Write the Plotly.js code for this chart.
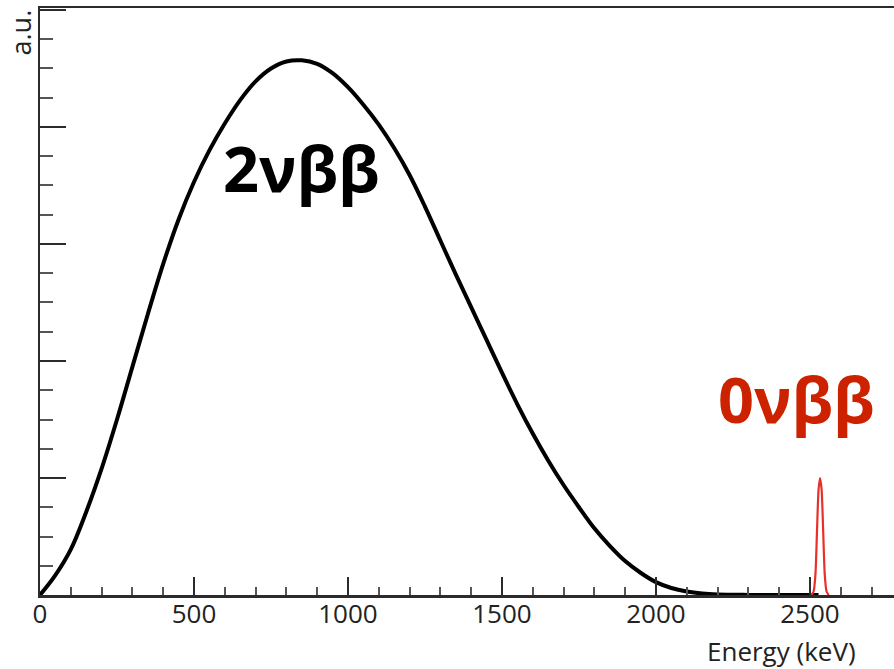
<!DOCTYPE html>
<html>
<head>
<meta charset="utf-8">
<script src="https://cdn.plot.ly/plotly-3.0.1.min.js"></script>
<style>html,body{margin:0;padding:0;background:#fff;overflow:hidden}</style>
</head>
<body>
<div id="chart" style="width:894px;height:669px"></div>
<script>
// 2νββ continuum (energy in keV, arbitrary units)
const energy2nu = [0, 50, 100, 150, 200, 250, 300, 350, 400, 450, 500, 550, 600, 650, 700, 750, 800, 850, 900, 950, 1000, 1050, 1100, 1150, 1200, 1250, 1300, 1350, 1400, 1450, 1500, 1550, 1600, 1650, 1700, 1750, 1800, 1850, 1900, 1950, 2000, 2050, 2100, 2150, 2200, 2300, 2400, 2528];
const counts2nu = [0, 0.17, 0.39, 0.71, 1.08, 1.50, 1.95, 2.40, 2.83, 3.21, 3.53, 3.80, 4.03, 4.23, 4.39, 4.50, 4.56, 4.57, 4.54, 4.46, 4.34, 4.19, 4.02, 3.82, 3.59, 3.32, 3.03, 2.74, 2.46, 2.18, 1.90, 1.63, 1.38, 1.15, 0.94, 0.75, 0.57, 0.42, 0.29, 0.19, 0.11, 0.06, 0.03, 0.013, 0.005, 0.001, 0, 0];
// 0νββ peak
const energy0nu = [2505, 2512, 2518, 2523, 2528, 2533, 2538, 2543, 2548, 2554, 2561];
const counts0nu = [0, 0.03, 0.18, 0.55, 0.90, 1.0, 0.90, 0.55, 0.18, 0.03, 0];
const xTicks = [0, 500, 1000, 1500, 2000, 2500];
const xLabels = ["0", "500", "1000", "1500", "2000", "2500"];

const axisColor = '#2b2b2b';
const traces = [
  {x: energy2nu, y: counts2nu, type: 'scatter', mode: 'lines',
   line: {color: '#000', width: 4, shape: 'spline', smoothing: 1}, hoverinfo: 'skip'},
  {x: energy0nu, y: counts0nu, type: 'scatter', mode: 'lines',
   line: {color: '#e8302a', width: 2.2, shape: 'spline', smoothing: 0.6}, hoverinfo: 'skip'}
];
const layout = {
  width: 894, height: 669,
  margin: {l: 40, r: 0, t: 8, b: 74},
  paper_bgcolor: '#fff', plot_bgcolor: '#fff',
  showlegend: false,
  font: {family: 'Open Sans, sans-serif', color: '#222'},
  xaxis: {
    range: [0, 2773], showgrid: false, zeroline: false,
    showline: true, linecolor: axisColor, linewidth: 2.5, mirror: true,
    ticks: 'inside', ticklen: 18, tickwidth: 2, tickcolor: axisColor,
    tickmode: 'array', tickvals: xTicks, ticktext: xLabels,
    tickfont: {size: 26, color: '#222', family: 'Open Sans, sans-serif'},
    ticklabelstandoff: -6,
    minor: {dtick: 100, ticks: 'inside', ticklen: 8, tickwidth: 2, tickcolor: '#555', showgrid: false}
  },
  yaxis: {
    range: [0, 5.017], showgrid: false, zeroline: false,
    showline: true, linecolor: axisColor, linewidth: 2.5,
    ticks: 'inside', ticklen: 26, tickwidth: 2, tickcolor: axisColor,
    dtick: 1, tick0: 0, showticklabels: false,
    minor: {dtick: 0.25, ticks: 'inside', ticklen: 13, tickwidth: 2, tickcolor: '#555', showgrid: false}
  },
  annotations: [
    {xref: 'paper', yref: 'paper', x: 0.957, y: -0.127, xanchor: 'right', yanchor: 'bottom',
     text: 'Energy (keV)', showarrow: false, borderpad: 0, font: {size: 26, color: '#222'}},
    {xref: 'paper', yref: 'paper', x: -0.024, y: 1.0, xanchor: 'center', yanchor: 'top',
     text: 'a.u.', textangle: -90, showarrow: false, font: {size: 27, color: '#222'}},
    {xref: 'x', yref: 'y', x: 848, y: 3.65, xanchor: 'center', yanchor: 'middle',
     text: '<b>2νββ</b>', showarrow: false, font: {size: 63, color: '#000'}},
    {xref: 'x', yref: 'y', x: 2458, y: 1.68, xanchor: 'center', yanchor: 'middle',
     text: '<b>0νββ</b>', showarrow: false, font: {size: 63, color: '#cc2200'}}
  ]
};
Plotly.newPlot('chart', traces, layout, {displayModeBar: false, staticPlot: true});
</script>
</body>
</html>
